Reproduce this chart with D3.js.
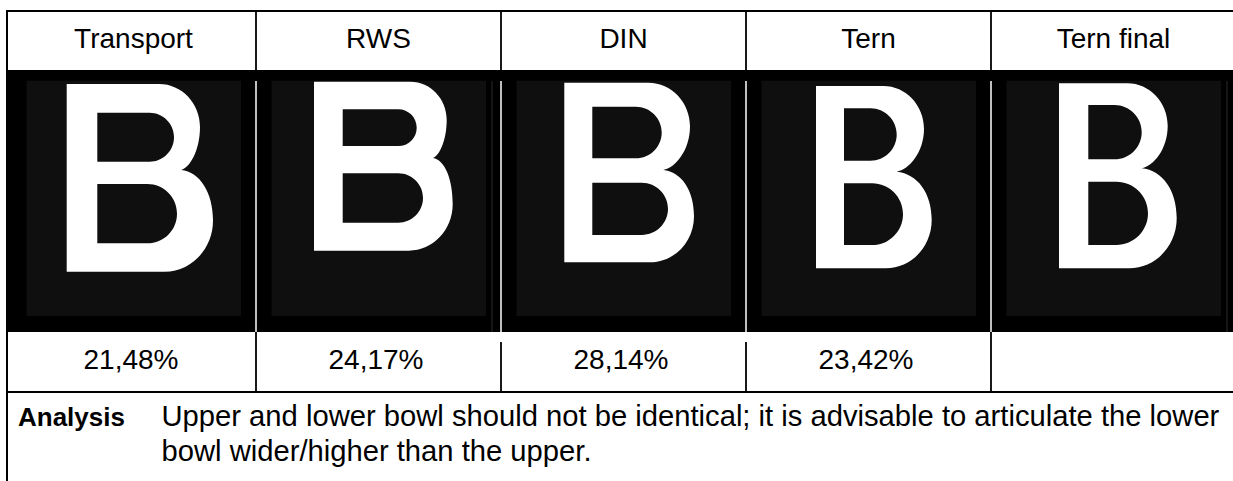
<!DOCTYPE html>
<html>
<head>
<meta charset="utf-8">
<script src="https://cdn.jsdelivr.net/npm/d3@7"></script>
<style>
  html, body { margin: 0; padding: 0; background: #fff; }
  svg { display: block; }
  text { font-family: "Liberation Sans", Arial, sans-serif; fill: #000; }
</style>
</head>
<body>
<svg id="chart" width="1233" height="481"></svg>
<script>
// ---- data ----
const methods = ["Transport", "RWS", "DIN", "Tern", "Tern final"];
const scores = [21.48, 24.17, 28.14, 23.42, null];
const analysisLabel = "Analysis";
const analysisLines = [
  "Upper and lower bowl should not be identical; it is advisable to articulate the lower",
  "bowl wider/higher than the upper."
];

// letter "B" outlines of each typeface (local units inside the picture cell)
const glyphStem   = [[55.7, 86.3], [58, 86.7], [63.3, 91.3], [70, 98], [68, 97.3]];      // stem left, counter left
const glyphTopBot = [[14, 201.7], [11.7, 180.7], [12.7, 192.3], [16, 198.3], [13.3, 198.3]];
const glyphUpper  = [[42.7, 91.7, 163, 189], [39.3, 76, 160.7, 190.7], [36.7, 88.3, 160.7, 189], [38.3, 90.7, 150.7, 178], [35, 89.3, 150.7, 176.7]]; // counter top, bottom, right, outer right
const glyphLower  = [[114, 173.3, 166, 202], [103.3, 152.7, 167, 196.7], [112.7, 165, 167, 193], [113.3, 175, 157, 185.7], [111.7, 175, 157, 185.7]];
const glyphWaist  = [[170, 100], [177, 88], [162.3, 100], [150.7, 101.7], [150.7, 98.3]];

// ---- layout ----
const svg = d3.select("#chart");
const W = 1233, H = 481;
const tableLeft = 7;
const x = d3.scaleBand().domain(methods).range([11, 1236]).padding(0);
const rowY = d3.scaleOrdinal().domain(["top", "header", "image", "values", "analysis"]).range([11, 70, 332, 392, 481]);
const headTop = rowY("top"), imgTop = rowY("header"), valTop = rowY("image"), anaTop = rowY("values");

const fmt = d3.formatLocale({ decimal: ",", thousands: ".", grouping: [3], currency: ["", ""] }).format(".2f");

// image row background
svg.append("rect").attr("x", tableLeft).attr("y", imgTop).attr("width", W - tableLeft).attr("height", valTop - imgTop).attr("fill", "#000");

const k = 0.5523;
function glyphPath(i) {
  const [xL, xC] = glyphStem[i];
  const [yT, yB] = glyphTopBot[i];
  const [c1t, c1b, c1r, xo1] = glyphUpper[i];
  const [c2t, c2b, c2r, xo2] = glyphLower[i];
  const [xw, yw] = glyphWaist[i];
  const p = d3.path();
  const ym1 = (yT + yw) / 2, ym2 = (yw + yB) / 2;
  const xs1 = xo1 - (ym1 - yT) * 0.95;
  const xs2 = xo2 - (yB - ym2) * 0.95;
  p.moveTo(xL, yT);
  p.lineTo(xs1, yT);
  p.bezierCurveTo(xs1 + k * (xo1 - xs1), yT, xo1, ym1 - k * (ym1 - yT), xo1, ym1);
  p.bezierCurveTo(xo1, ym1 + k * (yw - ym1), xw + 0.45 * (xo1 - xw), yw - 2, xw, yw);
  p.bezierCurveTo(xw + 0.6 * (xo2 - xw), yw + 2, xo2, ym2 - k * (ym2 - yw), xo2, ym2);
  p.bezierCurveTo(xo2, ym2 + k * (yB - ym2), xs2 + k * (xo2 - xs2), yB, xs2, yB);
  p.lineTo(xL, yB);
  p.closePath();
  [[c1t, c1b, c1r], [c2t, c2b, c2r]].forEach(([ct, cb, cr]) => {
    const ry = (cb - ct) / 2, cm = (ct + cb) / 2;
    const rx = Math.min(ry, cr - xC);
    const xs = cr - rx;
    p.moveTo(xC, ct);
    p.lineTo(xs, ct);
    p.bezierCurveTo(xs + k * rx, ct, cr, cm - k * ry, cr, cm);
    p.bezierCurveTo(cr, cm + k * ry, xs + k * rx, cb, xs, cb);
    p.lineTo(xC, cb);
    p.closePath();
  });
  return p.toString();
}

const cells = svg.append("g").selectAll("g.cell").data(methods).join("g")
  .attr("class", "cell")
  .attr("transform", d => `translate(${x(d)},${imgTop})`);

cells.append("rect")
  .attr("x", 15.5).attr("y", 10.7)
  .attr("width", 214.5).attr("height", 235.3)
  .attr("fill", "#0f0f0f");

cells.append("path")
  .attr("d", (d, i) => glyphPath(i))
  .attr("fill", "#fff")
  .attr("fill-rule", "evenodd");

// faint lines inside picture row
svg.append("g").selectAll("line").data(methods.slice(1)).join("line")
  .attr("x1", d => x(d)).attr("x2", d => x(d))
  .attr("y1", imgTop + 11).attr("y2", valTop)
  .attr("stroke", "#fff").attr("stroke-width", 1.5);
svg.append("g").selectAll("line").data(["RWS", "Tern final"]).join("line")
  .attr("x1", d => x(d) + 236).attr("x2", d => x(d) + 236)
  .attr("y1", imgTop + 11).attr("y2", valTop)
  .attr("stroke", "#2a2a2a").attr("stroke-width", 1);

// grid lines
const grid = svg.append("g").attr("stroke", "#000");
grid.append("line").attr("x1", tableLeft - 1).attr("x2", W).attr("y1", headTop).attr("y2", headTop).attr("stroke-width", 2);
grid.append("line").attr("x1", tableLeft).attr("x2", W).attr("y1", anaTop).attr("y2", anaTop).attr("stroke-width", 2);
grid.append("line").attr("x1", tableLeft).attr("x2", tableLeft).attr("y1", headTop).attr("y2", H).attr("stroke-width", 2);
grid.selectAll("line.hsep").data(methods.slice(1)).join("line").attr("class", "hsep")
  .attr("x1", d => x(d)).attr("x2", d => x(d)).attr("y1", headTop).attr("y2", imgTop).attr("stroke-width", 1.8);
grid.selectAll("line.vsep").data(methods.slice(1)).join("line").attr("class", "vsep")
  .attr("x1", d => x(d)).attr("x2", d => x(d))
  .attr("y1", d => (d === "DIN" || d === "Tern") ? valTop + 10 : valTop)
  .attr("y2", anaTop).attr("stroke-width", 1.8);

// header text
svg.append("g").selectAll("text").data(methods).join("text")
  .attr("x", d => x(d) + x.bandwidth() / 2)
  .attr("y", 48)
  .attr("text-anchor", "middle")
  .attr("font-size", 28)
  .text(d => d);

// values
svg.append("g").selectAll("text").data(methods).join("text")
  .attr("x", d => x(d) + x.bandwidth() / 2 - 2.5)
  .attr("y", 369)
  .attr("text-anchor", "middle")
  .attr("font-size", 28)
  .text((d, i) => scores[i] == null ? "" : fmt(scores[i]) + "%");

// analysis
svg.append("text").attr("x", 18).attr("y", 426)
  .attr("font-size", 26).attr("font-weight", "bold").text(analysisLabel);
svg.append("g").selectAll("text").data(analysisLines).join("text")
  .attr("x", 161.5).attr("y", (d, i) => 426 + i * 35)
  .attr("font-size", 29.2)
  .text(d => d);
</script>
</body>
</html>
